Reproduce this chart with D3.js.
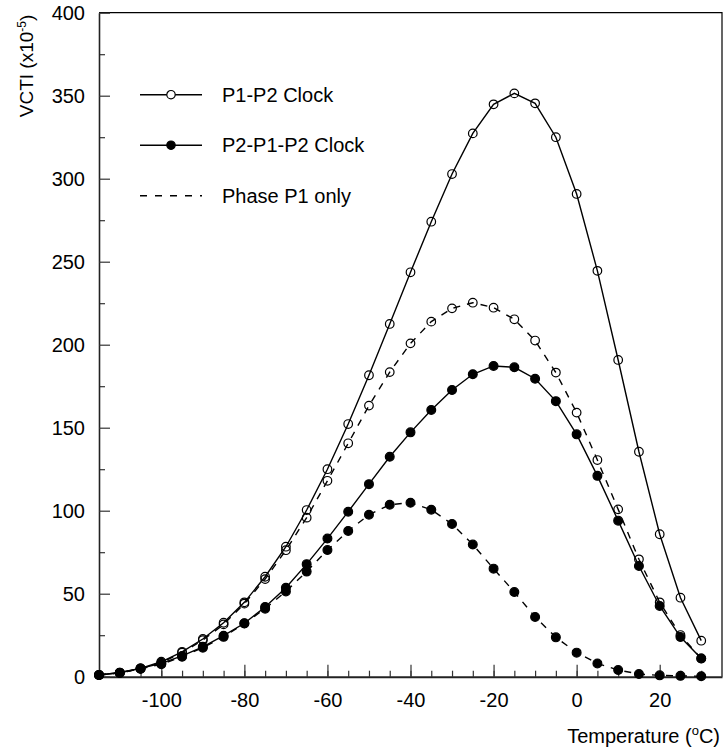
<!DOCTYPE html>
<html>
<head>
<meta charset="utf-8">
<script src="https://cdn.jsdelivr.net/npm/d3@7"></script>
<style>
  body { margin: 0; background: #fff; }
  text { font-family: "Liberation Sans", Arial, sans-serif; fill: #000; }
</style>
</head>
<body>
<div id="chart"></div>
<script>
// temperatures (deg C)
const temps = [-115, -110, -105, -100, -95, -90, -85, -80, -75, -70, -65, -60, -55, -50, -45,
  -40, -35, -30, -25, -20, -15, -10, -5, 0, 5, 10, 15, 20, 25, 30];

// VCTI (x10^-5)
const p1p2Clock = [1, 2.5, 5, 9, 15, 22.7, 32.5, 44.8, 60.2, 78.3, 100.4, 125, 152.2, 181.6, 212.5,
  243.6, 274.1, 302.8, 327.3, 344.8, 351.4, 345.4, 325, 290.8, 244.5, 190.8, 135.5, 85.8, 47.6, 21.7];
const p2p1p2Clock = [1, 2.4, 5, 8, 12.5, 18, 24.7, 32.2, 42, 53.6, 67.8, 83.2, 99.4, 116, 132.5,
  147.2, 160.7, 172.7, 182.2, 187.2, 186.4, 179.5, 166, 146, 121, 94, 66.7, 42.6, 23.9, 11];
const p1OnlyOpen = [1, 2.3, 4.8, 8.5, 14.5, 22, 31.5, 44, 58.8, 76.2, 95.8, 118, 140.6, 163.3, 183.5,
  200.8, 213.9, 221.9, 225.3, 222.3, 215.3, 202.5, 183.2, 159.1, 130.5, 100.8, 70.7, 44.8, 25.1, 11];
const p1OnlyFilled = [1, 2.3, 4.8, 7.5, 12, 17.5, 24, 32, 41, 51.4, 63.3, 76.3, 87.8, 97.6, 103.6,
  104.8, 100.6, 92, 79.6, 65.1, 51, 36, 23.7, 14.5, 8, 4, 1.6, 0.8, 0.5, 0.3];

const xMajor = [-100, -80, -60, -40, -20, 0, 20];
const yMajor = [0, 50, 100, 150, 200, 250, 300, 350, 400];

const legendItems = [
  {label: "P1-P2 Clock", marker: "open", dash: null},
  {label: "P2-P1-P2 Clock", marker: "filled", dash: null},
  {label: "Phase P1 only", marker: null, dash: "7,8"}
];

const series = [
  {values: p1OnlyOpen, marker: "open", dash: "7,7"},
  {values: p1OnlyFilled, marker: "filled", dash: "7,7"},
  {values: p1p2Clock, marker: "open", dash: null},
  {values: p2p1p2Clock, marker: "filled", dash: null}
];

const margin = {top: 12.7, right: 1, bottom: 76.3, left: 99},
    width = 723 - margin.left - margin.right,
    height = 753 - margin.top - margin.bottom;

const svgRoot = d3.select("#chart")
  .append("svg")
    .attr("width", 723)
    .attr("height", 753);

const svg = svgRoot.append("g")
    .attr("transform", `translate(${margin.left}, ${margin.top})`);

const x = d3.scaleLinear().domain([-115, 35]).range([0, width]);
const y = d3.scaleLinear().domain([0, 400]).range([height, 0]);

// plain hyphen for negative labels, like the original
const fmt = d => String(d);

// frame (top and right)
svg.append("path")
  .attr("d", `M0,0H${width}V${height}`)
  .attr("fill", "none")
  .attr("stroke", "#000")
  .attr("stroke-width", 1.2);

// minor ticks
svg.append("g")
  .attr("transform", `translate(0, ${height})`)
  .call(d3.axisBottom(x).tickValues(d3.range(-110, 35, 5)).tickSize(-6).tickFormat(""))
  .call(g => g.select(".domain").remove())
  .selectAll("line").attr("stroke", "#333").attr("stroke-width", 1.2);
svg.append("g")
  .call(d3.axisLeft(y).tickValues(d3.range(25, 400, 50)).tickSize(-6).tickFormat(""))
  .call(g => g.select(".domain").remove())
  .selectAll("line").attr("stroke", "#333").attr("stroke-width", 1.2);

// X axis
const xAxis = svg.append("g")
  .attr("transform", `translate(0, ${height})`)
  .call(d3.axisBottom(x).tickValues(xMajor).tickFormat(fmt).tickSize(-12).tickPadding(16).tickSizeOuter(0));
xAxis.select(".domain").attr("stroke", "#222").attr("stroke-width", 2);
xAxis.selectAll(".tick line").attr("stroke", "#333").attr("stroke-width", 1.2);
xAxis.selectAll("text").style("font-size", "20px").style("font-family", "Liberation Sans, Arial, sans-serif");

// Y axis
const yAxis = svg.append("g")
  .call(d3.axisLeft(y).tickValues(yMajor).tickFormat(fmt).tickSize(-11).tickPadding(14).tickSizeOuter(0));
yAxis.select(".domain").attr("stroke", "#222").attr("stroke-width", 1.6);
yAxis.selectAll(".tick line").attr("stroke", "#333").attr("stroke-width", 1.2);
yAxis.selectAll("text").style("font-size", "20px").style("font-family", "Liberation Sans, Arial, sans-serif");

// x axis label
const xLabel = svg.append("text")
  .attr("text-anchor", "end")
  .attr("x", width - 2)
  .attr("y", height + 66)
  .style("font-size", "20px");
xLabel.append("tspan").text("Temperature (");
xLabel.append("tspan").attr("dy", -8).style("font-size", "13px").text("o");
xLabel.append("tspan").attr("dy", 8).text("C)");

// y axis label
const yLabel = svg.append("text")
  .attr("text-anchor", "end")
  .attr("transform", `translate(${-66}, ${2}) rotate(-90)`)
  .style("font-size", "19px");
yLabel.append("tspan").text("VCTI (x10");
yLabel.append("tspan").attr("dy", -7).style("font-size", "12px").text("-5");
yLabel.append("tspan").attr("dy", 7).text(")");

const line = d3.line()
  .x((d, i) => x(temps[i]))
  .y(d => y(d));

// lines
svg.selectAll(".series-line")
  .data(series)
  .enter()
  .append("path")
    .attr("class", "series-line")
    .attr("d", d => line(d.values))
    .attr("fill", "none")
    .attr("stroke", "#000")
    .attr("stroke-width", 1.4)
    .attr("stroke-dasharray", d => d.dash);

// markers
series.forEach(function(s) {
  svg.append("g")
    .selectAll("circle")
    .data(s.values)
    .enter()
    .append("circle")
      .attr("cx", (d, i) => x(temps[i]))
      .attr("cy", d => y(d))
      .attr("r", s.marker === "filled" ? 4.4 : 4.3)
      .attr("fill", s.marker === "filled" ? "#000" : "none")
      .attr("stroke", "#000")
      .attr("stroke-width", 1.2);
});

// legend
const legend = svg.append("g")
  .attr("transform", "translate(41, 82)");
const item = legend.selectAll(".legend-item")
  .data(legendItems)
  .enter()
  .append("g")
    .attr("class", "legend-item")
    .attr("transform", (d, i) => `translate(0, ${i * 50.5})`);
item.append("line")
  .attr("x1", 0).attr("x2", 62)
  .attr("stroke", "#000")
  .attr("stroke-width", 1.4)
  .attr("stroke-dasharray", d => d.dash);
item.filter(d => d.marker)
  .append("circle")
    .attr("cx", 31)
    .attr("r", 4.2)
    .attr("fill", d => d.marker === "filled" ? "#000" : "#fff")
    .attr("stroke", "#000")
    .attr("stroke-width", 1.2);
item.append("text")
  .attr("x", 82)
  .attr("dy", "0.35em")
  .style("font-size", "20px")
  .text(d => d.label);
</script>
</body>
</html>
